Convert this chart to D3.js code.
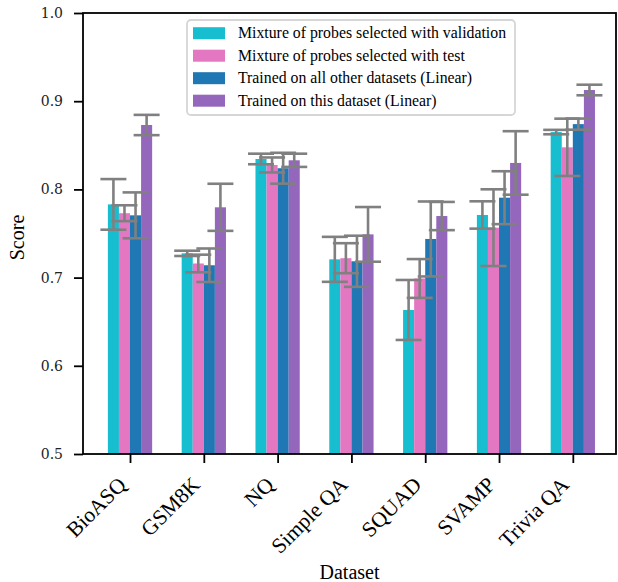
<!DOCTYPE html>
<html><head><meta charset="utf-8">
<script src="https://cdn.jsdelivr.net/npm/d3@7"></script>
<style>body{margin:0;background:#fff}svg{display:block}</style>
</head><body>
<svg id="c" width="618" height="582"></svg>
<script>
const categories = ["BioASQ","GSM8K","NQ","Simple QA","SQUAD","SVAMP","Trivia QA"];
const seriesNames = ["Mixture of probes selected with validation","Mixture of probes selected with test","Trained on all other datasets (Linear)","Trained on this dataset (Linear)"];
const seriesColors = ["#17becf","#e377c2","#1f77b4","#9467bd"];
const validation = [0.783, 0.7275, 0.8345, 0.7207, 0.6633, 0.771, 0.865];
const validationErr = [0.0287, 0.003, 0.006, 0.0255, 0.034, 0.0155, 0.0025];
const test = [0.773, 0.716, 0.8277, 0.722, 0.699, 0.7566, 0.8477];
const testErr = [0.009, 0.010, 0.0085, 0.017, 0.022, 0.0435, 0.0325];
const otherDatasets = [0.7706, 0.714, 0.824, 0.7185, 0.7438, 0.7906, 0.874];
const otherDatasetsErr = [0.026, 0.019, 0.0175, 0.029, 0.0425, 0.030, 0.0063];
const thisDataset = [0.873, 0.7797, 0.833, 0.749, 0.7698, 0.830, 0.9127];
const thisDatasetErr = [0.0115, 0.0267, 0.0075, 0.031, 0.016, 0.036, 0.006];
const yTicks = [0.5, 0.6, 0.7, 0.8, 0.9, 1.0];

const values = [validation, test, otherDatasets, thisDataset];
const errors = [validationErr, testErr, otherDatasetsErr, thisDatasetErr];

const svg = d3.select("#c");
const L = 83, R = 616, T = 13, B = 454;
const x = d3.scaleLinear().domain([-0.637, 6.585]).range([L, R]);
const y = d3.scaleLinear().domain([0.5, 1.0]).range([B, T]);
const barW = 0.15;
const serif = "'Liberation Serif','Times New Roman',serif";

// bars
values.forEach((vals, s) => {
  svg.append("g").selectAll("rect").data(vals).join("rect")
    .attr("x", (d, i) => x(i + (s - 1.5) * barW - barW / 2))
    .attr("width", x(barW) - x(0))
    .attr("y", d => y(d))
    .attr("height", d => y(0.5) - y(d))
    .attr("fill", seriesColors[s]);
});
// error bars
const errCol = "#808080", cap = 13;
values.forEach((vals, s) => {
  const g = svg.append("g").attr("stroke", errCol).attr("stroke-width", 2.6).attr("fill", "none");
  vals.forEach((v, i) => {
    const cx = x(i + (s - 1.5) * barW);
    const e = errors[s][i];
    g.append("line").attr("x1", cx).attr("x2", cx).attr("y1", y(v - e)).attr("y2", y(v + e));
    g.append("line").attr("x1", cx - cap).attr("x2", cx + cap).attr("y1", y(v - e)).attr("y2", y(v - e));
    g.append("line").attr("x1", cx - cap).attr("x2", cx + cap).attr("y1", y(v + e)).attr("y2", y(v + e));
  });
});

// axes
const yAxis = d3.axisLeft(y).tickValues(yTicks).tickFormat(d3.format(".1f")).tickSize(9).tickPadding(11);
const gy = svg.append("g").attr("transform", `translate(${L},0)`).call(yAxis);
gy.select(".domain").remove();
gy.selectAll("line").attr("stroke", "#000").attr("stroke-width", 1.8);
gy.selectAll("text").attr("font-family", "'DejaVu Serif',serif").attr("font-size", 14).attr("fill", "#222");

const xAxis = d3.axisBottom(x).tickValues(d3.range(categories.length)).tickFormat(i => categories[i]).tickSize(9);
const gx = svg.append("g").attr("transform", `translate(0,${B})`).call(xAxis);
gx.select(".domain").remove();
gx.selectAll("line").attr("stroke", "#000").attr("stroke-width", 1.8);
gx.selectAll("text").attr("font-family", serif).attr("font-size", 21.5).attr("fill", "#000")
  .attr("text-anchor", "end").attr("dy", null).attr("y", 0)
  .attr("transform", "translate(-3,32) rotate(-45)");

// frame
svg.append("rect").attr("x", L).attr("y", T).attr("width", R - L).attr("height", B - T)
  .attr("fill", "none").attr("stroke", "#000").attr("stroke-width", 1.8);

// labels
svg.append("text").attr("transform", `translate(24,${(T + B) / 2 + 4}) rotate(-90)`)
  .attr("text-anchor", "middle").attr("font-family", serif).attr("font-size", 20).text("Score");
svg.append("text").attr("x", (L + R) / 2).attr("y", 579)
  .attr("text-anchor", "middle").attr("font-family", serif).attr("font-size", 20).text("Dataset");

// legend
const lg = svg.append("g");
lg.append("rect").attr("x", 187).attr("y", 20).attr("width", 328).attr("height", 95).attr("rx", 4)
  .attr("fill", "#fff").attr("fill-opacity", 0.8).attr("stroke", "#d6d6d6").attr("stroke-width", 1.8);
seriesNames.forEach((n, s) => {
  const cy = 33.2 + s * 22.5;
  lg.append("rect").attr("x", 193).attr("y", cy - 6).attr("width", 32).attr("height", 12).attr("fill", seriesColors[s]);
  lg.append("text").attr("x", 238).attr("y", cy + 5).attr("font-family", serif).attr("font-size", 15.8).text(n);
});
</script>
</body></html>
